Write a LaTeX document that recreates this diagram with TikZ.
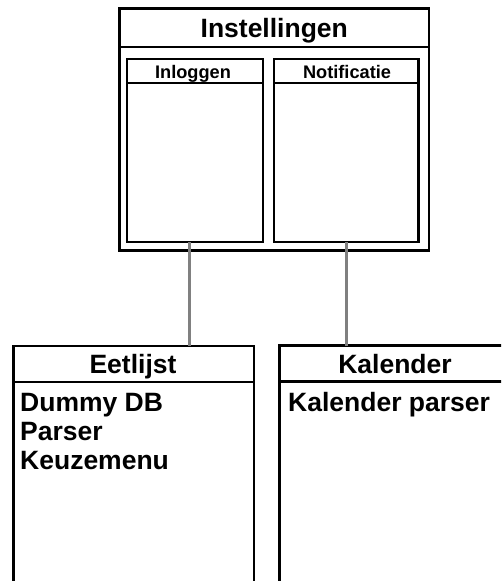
\documentclass[tikz,border=0pt]{standalone}
\usepackage{fontspec}
\setmainfont{Liberation Sans}
\begin{document}
\begin{tikzpicture}[x=1pt,y=-1pt,
  frame/.style={draw=black, line width=2.3pt, fill=white, inner sep=0pt, outer sep=0pt, anchor=north west},
  sepline/.style={draw=black, line width=2.3pt},
  conn/.style={draw=black!50, line width=3pt},
  bigtext/.style={font=\bfseries\fontsize{26.5}{29}\selectfont, inner sep=0pt, text=black},
  smalltext/.style={font=\bfseries\fontsize{18.2}{21}\selectfont, inner sep=0pt, text=black}]
\useasboundingbox (0,0) rectangle (501,581);
\clip (0,0) rectangle (501,581);
\fill[white] (0,0) rectangle (501,581);

% Instellingen
\node[frame, minimum width=309.5pt, minimum height=242pt] (inst) at (119.5,8.5) {};
\draw[sepline] ([yshift=-38.5pt]inst.north west) -- ([yshift=-38.5pt]inst.north east);
\node[bigtext, anchor=base] (instT) at (274.25,37) {Instellingen};

% Inloggen
\node[frame, minimum width=136pt, minimum height=183pt] (login) at (127,59) {};
\draw[sepline] ([yshift=-24pt]login.north west) -- ([yshift=-24pt]login.north east);
\node[smalltext, anchor=base] (loginT) at (193,78.3) {Inloggen};

% Notificatie
\node[frame, minimum width=144.5pt, minimum height=183pt] (notif) at (274,59) {};
\draw[sepline] ([yshift=-24pt]notif.north west) -- ([yshift=-24pt]notif.north east);
\node[smalltext, anchor=base] (notifT) at (347,78.3) {Notificatie};

% Eetlijst
\node[frame, minimum width=240.5pt, minimum height=260pt] (eet) at (13.5,346) {};
\draw[sepline] ([yshift=-36pt]eet.north west) -- ([yshift=-36pt]eet.north east);
\node[bigtext, anchor=base] (eetT) at (133,373.3) {Eetlijst};
\node[bigtext, anchor=base west] (eet1) at (20,411.7) {Dummy DB};
\node[bigtext, anchor=base west] (eet2) at (20,440.8) {Parser};
\node[bigtext, anchor=base west] (eet3) at (20,469.6) {Keuzemenu};

% Kalender
\node[frame, minimum width=231pt, minimum height=260pt] (kal) at (279.5,345.5) {};
\draw[sepline] ([yshift=-36pt]kal.north west) -- ([yshift=-36pt]kal.north east);
\node[bigtext, anchor=base] (kalT) at (395,373) {Kalender};
\node[bigtext, anchor=base west] (kal1) at (288,411.7) {Kalender parser};

% connectors
\draw[conn] ([xshift=-5.5pt]login.south) -- ([xshift=-5.5pt]login.south |- eet.north);
\draw[conn] (notif.south) -- (notif.south |- kal.north);
\end{tikzpicture}
\end{document}
